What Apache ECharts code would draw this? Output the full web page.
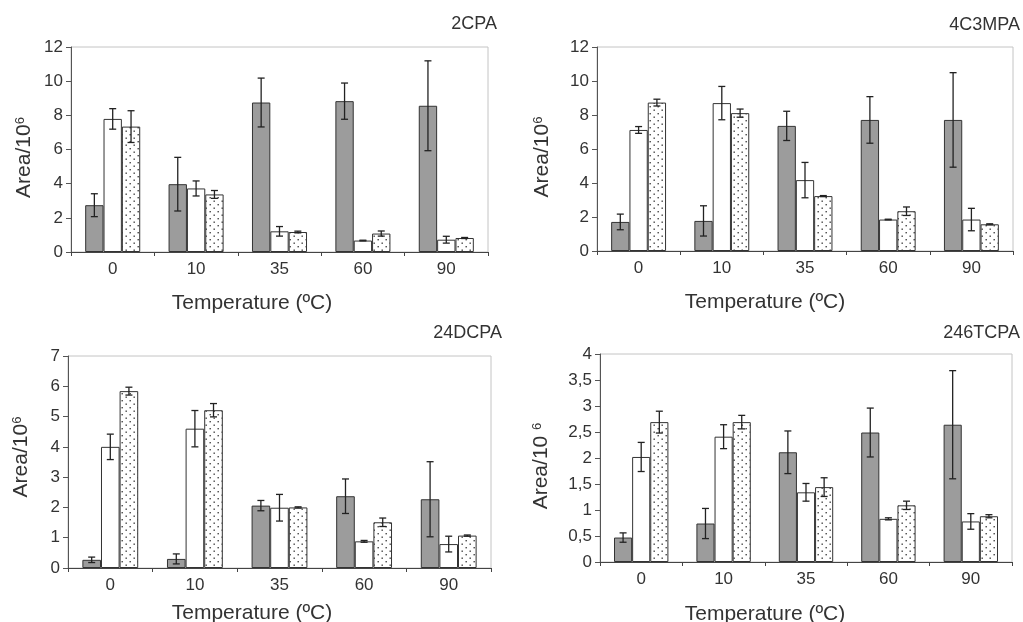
<!DOCTYPE html>
<html>
<head>
<meta charset="utf-8">
<script src="https://cdn.jsdelivr.net/npm/echarts@6/dist/echarts.min.js"></script>
<style>
  html, body { margin: 0; padding: 0; background: #fff; }
  #main { width: 1023px; height: 622px; }
</style>
</head>
<body>
<div id="main"></div>
<script>
// categories (temperature, ºC)
var temps = ['0', '10', '35', '60', '90'];

// 2CPA
var cpa2Gray = [2.74, 3.97, 8.75, 8.83, 8.56];
var cpa2GrayErr = [0.67, 1.57, 1.43, 1.06, 2.63];
var cpa2White = [7.79, 3.72, 1.21, 0.67, 0.72];
var cpa2WhiteErr = [0.6, 0.44, 0.28, 0.02, 0.2];
var cpa2Dot = [7.34, 3.37, 1.17, 1.08, 0.82];
var cpa2DotErr = [0.93, 0.23, 0.05, 0.15, 0.03];

// 4C3MPA
var mpaGray = [1.71, 1.77, 7.36, 7.71, 7.71];
var mpaGrayErr = [0.46, 0.89, 0.86, 1.37, 2.78];
var mpaWhite = [7.12, 8.7, 4.17, 1.85, 1.85];
var mpaWhiteErr = [0.2, 0.98, 1.04, 0.02, 0.66];
var mpaDot = [8.73, 8.11, 3.23, 2.34, 1.57];
var mpaDotErr = [0.2, 0.24, 0.03, 0.25, 0.03];

// 24DCPA
var dcpaGray = [0.27, 0.3, 2.06, 2.37, 2.27];
var dcpaGrayErr = [0.09, 0.165, 0.17, 0.57, 1.24];
var dcpaWhite = [4.0, 4.6, 1.99, 0.88, 0.79];
var dcpaWhiteErr = [0.42, 0.6, 0.44, 0.03, 0.26];
var dcpaDot = [5.84, 5.21, 2.0, 1.51, 1.07];
var dcpaDotErr = [0.13, 0.22, 0.02, 0.14, 0.02];

// 246TCPA
var tcpaGray = [0.47, 0.74, 2.11, 2.49, 2.64];
var tcpaGrayErr = [0.09, 0.29, 0.41, 0.47, 1.04];
var tcpaWhite = [2.02, 2.41, 1.34, 0.83, 0.78];
var tcpaWhiteErr = [0.28, 0.23, 0.17, 0.02, 0.15];
var tcpaDot = [2.69, 2.69, 1.44, 1.09, 0.88];
var tcpaDotErr = [0.21, 0.13, 0.18, 0.08, 0.03];

// panel titles and y axis ranges
var panelTitles = ['2CPA', '4C3MPA', '24DCPA', '246TCPA'];
var yMax = [12, 12, 7, 4];
var yStep = [2, 2, 1, 0.5];

var panels = [
  [cpa2Gray, cpa2GrayErr, cpa2White, cpa2WhiteErr, cpa2Dot, cpa2DotErr],
  [mpaGray, mpaGrayErr, mpaWhite, mpaWhiteErr, mpaDot, mpaDotErr],
  [dcpaGray, dcpaGrayErr, dcpaWhite, dcpaWhiteErr, dcpaDot, dcpaDotErr],
  [tcpaGray, tcpaGrayErr, tcpaWhite, tcpaWhiteErr, tcpaDot, tcpaDotErr]
];

// dotted fill pattern (staggered dots)
var pat = document.createElement('canvas');
pat.width = 8; pat.height = 7;
var pctx = pat.getContext('2d');
pctx.fillStyle = '#fff';
pctx.fillRect(0, 0, 8, 7);
pctx.fillStyle = '#444';
pctx.fillRect(1.5, 1, 1.4, 1.4);
pctx.fillRect(5.5, 4.5, 1.4, 1.4);

var textColor = '#333';
var gap = 0.34;

var grids = [
  {left: 71, top: 47, width: 417, height: 205},
  {left: 597, top: 47, width: 416, height: 204},
  {left: 68, top: 356, width: 423, height: 212},
  {left: 600, top: 354, width: 412, height: 208}
];
var yNameGap = [36, 44, 36, 48];
// padding to shift the axis names off centre like the original
var yNamePad = [[0, 16, 0, 0], [0, 16, 0, 0], [0, 0, 0, 10], [0, 16, 0, 0]];
var xNameGap = [41, 41, 35, 42];
var xNamePad = [[0, 55, 0, 0], [0, 80, 0, 0], [0, 55, 0, 0], [0, 82, 0, 0]];
var titlePos = [
  {right: 526, top: 15},
  {right: 3, top: 16},
  {right: 521, top: 324},
  {right: 3, top: 324}
];

var myChart = echarts.init(document.getElementById('main'));

var option = {
  animation: false,
  backgroundColor: '#fff',
  title: [],
  grid: [],
  xAxis: [],
  yAxis: [],
  series: []
};

// error bar drawing
function errorBar(offsetIdx) {
  return function (params, api) {
    var i = api.value(0);
    var mean = api.value(1);
    var err = api.value(2);
    var band = api.size([1, 0])[0];
    var bw = band * (1 - gap) / 3;
    var c = api.coord([i, mean]);
    var x = c[0] + (offsetIdx - 1) * bw;
    var top = api.coord([i, mean + err])[1];
    var bot = api.coord([i, mean - err])[1];
    var hw = 3.5;
    var st = {stroke: '#222', lineWidth: 1.3};
    return {
      type: 'group',
      children: [
        {type: 'line', shape: {x1: x, y1: top, x2: x, y2: bot}, style: st},
        {type: 'line', shape: {x1: x - hw, y1: top, x2: x + hw, y2: top}, style: st},
        {type: 'line', shape: {x1: x - hw, y1: bot, x2: x + hw, y2: bot}, style: st}
      ]
    };
  };
}

var fills = ['#9c9c9c', '#ffffff', {image: pat, repeat: 'repeat'}];

for (var p = 0; p < 4; p++) {
  option.title.push({
    text: panelTitles[p],
    right: titlePos[p].right,
    top: titlePos[p].top,
    padding: 0,
    textStyle: {fontSize: 18, fontWeight: 'normal', color: textColor, fontFamily: 'Liberation Sans'}
  });
  option.grid.push({
    left: grids[p].left, top: grids[p].top, width: grids[p].width, height: grids[p].height,
    outerBoundsMode: 'none',
    show: true, borderColor: '#c4c4c4', borderWidth: 1, backgroundColor: 'transparent'
  });
  option.xAxis.push({
    type: 'category',
    gridIndex: p,
    data: temps,
    name: 'Temperature (ºC)',
    nameLocation: 'middle',
    nameGap: xNameGap[p],
    nameTextStyle: {fontSize: 21, color: textColor, fontFamily: 'Liberation Sans', padding: xNamePad[p]},
    axisLine: {lineStyle: {color: '#444', width: 1}},
    axisTick: {show: true, length: 4, lineStyle: {color: '#444'}},
    axisLabel: {fontSize: 17, color: textColor, margin: 9, fontFamily: 'Liberation Sans'},
    splitLine: {show: false}
  });
  option.yAxis.push({
    type: 'value',
    gridIndex: p,
    min: 0,
    max: yMax[p],
    interval: yStep[p],
    name: p === 3 ? 'Area/10 {s|6}' : 'Area/10{s|6}',
    nameLocation: 'middle',
    nameGap: yNameGap[p],
    nameTextStyle: {
      fontSize: 21, color: textColor, fontFamily: 'Liberation Sans', padding: yNamePad[p],
      rich: {s: {fontSize: 13, verticalAlign: 'top', color: textColor, fontFamily: 'Liberation Sans', padding: [0, 0, 8, 0]}}
    },
    axisLine: {show: true, lineStyle: {color: '#555', width: 1}},
    axisTick: {show: true, length: 5, lineStyle: {color: '#555'}},
    axisLabel: {
      fontSize: 17, color: textColor, margin: 8, fontFamily: 'Liberation Sans',
      formatter: function (v) { return String(v).replace('.', ','); }
    },
    splitLine: {show: false}
  });

  var d = panels[p];
  for (var k = 0; k < 3; k++) {
    option.series.push({
      type: 'bar',
      xAxisIndex: p,
      yAxisIndex: p,
      data: d[k * 2],
      barGap: '0%',
      barCategoryGap: (gap * 100) + '%',
      itemStyle: {color: fills[k], borderColor: '#333', borderWidth: 1}
    });
  }
  for (var k2 = 0; k2 < 3; k2++) {
    var means = d[k2 * 2], errs = d[k2 * 2 + 1];
    var pts = means.map(function (m, i) { return [i, m, errs[i]]; });
    option.series.push({
      type: 'custom',
      xAxisIndex: p,
      yAxisIndex: p,
      renderItem: errorBar(k2),
      data: pts,
      z: 10
    });
  }
}

myChart.setOption(option);
</script>
</body>
</html>
